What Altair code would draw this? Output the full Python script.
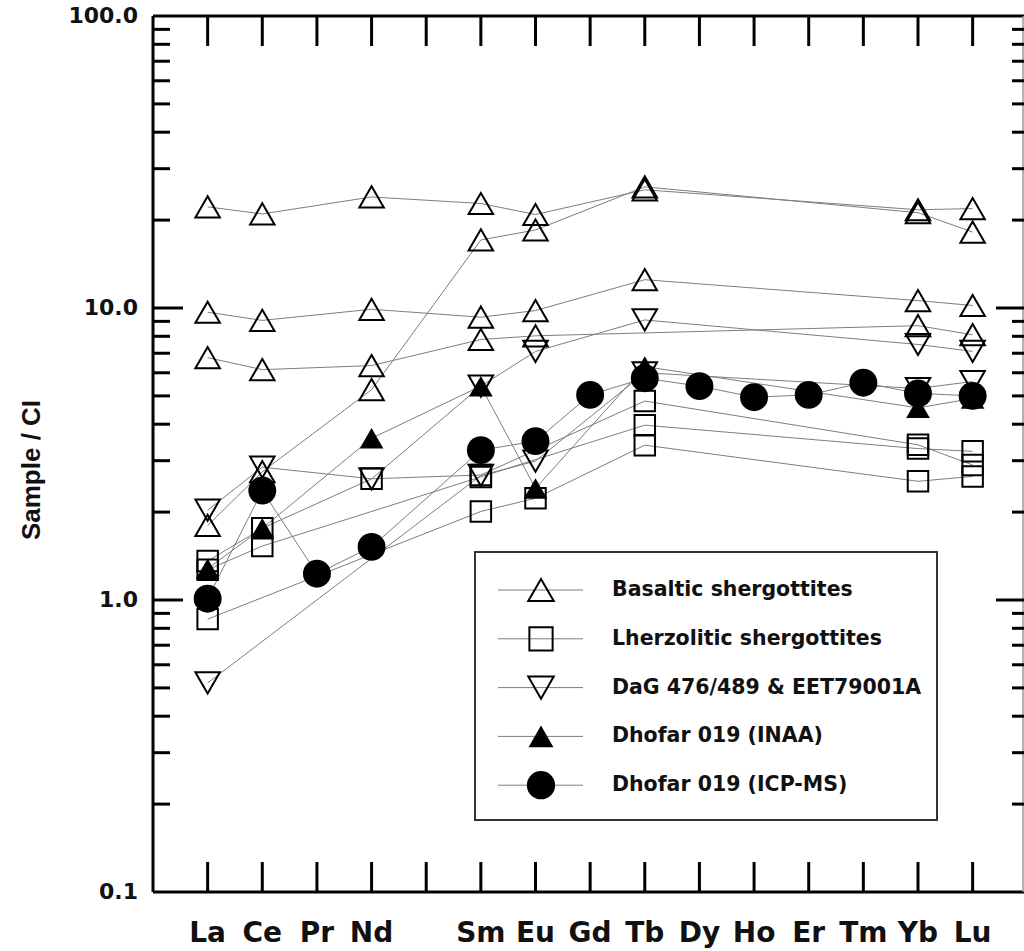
import altair as alt
import pandas as pd

# Rare-earth elements on the x axis (Pm has a tick but no label or data)
ELEMENTS = ["La", "Ce", "Pr", "Nd", "Pm", "Sm", "Eu", "Gd",
            "Tb", "Dy", "Ho", "Er", "Tm", "Yb", "Lu"]
LABELED = ["La", "Ce", "Pr", "Nd", "Sm", "Eu", "Gd",
           "Tb", "Dy", "Ho", "Er", "Tm", "Yb", "Lu"]
N = None

# CI-chondrite normalised abundances, one list per sample (None = not analysed)
BASALTIC_1 = [22.2, 21.0, N, 24.0, N, 22.8, 20.9, N, 25.4, N, N, N, N, 21.7, 21.9]
BASALTIC_2 = [1.80, 2.75, N, 5.25, N, 17.1, 18.5, N, 26.0, N, N, N, N, 21.2, 18.2]
BASALTIC_3 = [9.67, 9.07, N, 9.9, N, 9.3, 9.8, N, 12.5, N, N, N, N, 10.6, 10.2]
BASALTIC_4 = [6.76, 6.15, N, 6.35, N, 7.8, 8.03, N, N, N, N, N, N, 8.7, 8.1]

LHERZOLITIC_1 = [1.36, 1.76, N, 2.6, N, 2.68, N, N, 4.8, N, N, N, N, 3.4, 2.9]
LHERZOLITIC_2 = [1.27, 1.53, N, N, N, 2.64, N, N, 3.97, N, N, N, N, 3.3, 3.23]
LHERZOLITIC_3 = [0.86, N, N, N, N, 2.01, 2.23, N, 3.39, N, N, N, N, 2.55, 2.65]

DAG_EET_1 = [2.03, 2.85, N, 2.6, N, 5.4, 7.1, N, 9.1, N, N, N, N, 7.5, 7.1]
DAG_EET_2 = [0.52, N, N, N, N, 2.67, 2.99, N, 6.0, N, N, N, N, 5.3, 5.6]

DHOFAR_INAA = [1.28, 1.76, N, 3.58, N, 5.4, 2.41, N, 6.3, N, N, N, N, 4.55, 4.9]
DHOFAR_ICPMS = [1.01, 2.37, 1.23, 1.52, N, 3.26, 3.5, 5.04, 5.75, 5.4, 4.95,
                5.04, 5.55, 5.1, 5.0]

GROUPS = ["Basaltic shergottites", "Lherzolitic shergottites",
          "DaG 476/489 & EET79001A", "Dhofar 019 (INAA)", "Dhofar 019 (ICP-MS)"]
GROUP_SAMPLES = [
    [BASALTIC_1, BASALTIC_2, BASALTIC_3, BASALTIC_4],
    [LHERZOLITIC_1, LHERZOLITIC_2, LHERZOLITIC_3],
    [DAG_EET_1, DAG_EET_2],
    [DHOFAR_INAA],
    [DHOFAR_ICPMS],
]
Y_TICK_LABELS = ["0.1", "1.0", "10.0", "100.0"]
Y_TICK_VALUES = [0.1, 1.0, 10.0, 100.0]

# ---- styling ----
SHAPES = ["triangle-up", "square", "triangle-down", "triangle-up", "circle"]
FILLED = [False, False, False, True, True]
SIZES = [600, 420, 600, 560, 780]
LEGEND_SIZES = [650, 540, 650, 620, 800]

W, H = 871, 876
FONT = "DejaVu Sans"

rows = []
for g, samples in zip(GROUPS, GROUP_SAMPLES):
    for k, s in enumerate(samples):
        for i, v in enumerate(s):
            if v is not None:
                rows.append({"group": g, "sample": f"{g} {k}", "idx": i,
                             "element": ELEMENTS[i], "value": v})
df = pd.DataFrame(rows)

xscale = alt.Scale(domain=[-1, 14.94], nice=False, zero=False)
yscale = alt.Scale(type="log", domain=[0.1, 100], nice=False)
X = alt.X("idx:Q", scale=xscale, axis=None)
Y = alt.Y("value:Q", scale=yscale, axis=None)

layers = []

# connecting lines
layers.append(
    alt.Chart(df).mark_line(color="#7d7d7d", strokeWidth=1)
    .encode(x=X, y=Y, detail="sample:N", order="idx:Q")
)

# symbols: open ones first, filled on top
for order_filled in (False, True):
    for g, shp, fil, sz in zip(GROUPS, SHAPES, FILLED, SIZES):
        if fil != order_filled:
            continue
        layers.append(
            alt.Chart(df[df["group"] == g]).mark_point(
                shape=shp, filled=fil, size=sz, color="black",
                strokeWidth=2, opacity=1)
            .encode(x=X, y=Y)
        )

# frame (left, top, bottom, right)
one = pd.DataFrame({"d": [0]})
layers.append(alt.Chart(one).mark_rule(color="black", strokeWidth=3)
              .encode(x=alt.value(0), y=alt.value(0), y2=alt.value(H)))
layers.append(alt.Chart(one).mark_rule(color="black", strokeWidth=3)
              .encode(x=alt.value(0), x2=alt.value(W), y=alt.value(0)))
layers.append(alt.Chart(one).mark_rule(color="black", strokeWidth=3)
              .encode(x=alt.value(0), x2=alt.value(W), y=alt.value(H)))
layers.append(alt.Chart(one).mark_rule(color="#9a9a9a", strokeWidth=1.5)
              .encode(x=alt.value(W - 1), y=alt.value(0), y2=alt.value(H)))

# inward ticks on top and bottom at every element position
xt = pd.DataFrame({"idx": list(range(len(ELEMENTS)))})
XT = alt.X("idx:Q", scale=xscale, axis=None)
layers.append(alt.Chart(xt).mark_rule(color="black", strokeWidth=3)
              .encode(x=XT, y=alt.value(0), y2=alt.value(30)))
layers.append(alt.Chart(xt).mark_rule(color="black", strokeWidth=3)
              .encode(x=XT, y=alt.value(H - 30), y2=alt.value(H)))

# log ticks on left and right
minor = pd.DataFrame({"v": [m * d for d in (0.1, 1, 10) for m in range(2, 10)]})
major = pd.DataFrame({"v": [1.0, 10.0]})
YT = alt.Y("v:Q", scale=yscale, axis=None)
layers.append(alt.Chart(minor).mark_rule(color="black", strokeWidth=3)
              .encode(y=YT, x=alt.value(0), x2=alt.value(17)))
layers.append(alt.Chart(major).mark_rule(color="black", strokeWidth=3)
              .encode(y=YT, x=alt.value(0), x2=alt.value(30)))
layers.append(alt.Chart(minor).mark_rule(color="black", strokeWidth=3)
              .encode(y=YT, x=alt.value(W - 12), x2=alt.value(W)))
layers.append(alt.Chart(major).mark_rule(color="black", strokeWidth=3)
              .encode(y=YT, x=alt.value(W - 28), x2=alt.value(W)))

# x labels
xl = pd.DataFrame({"idx": [ELEMENTS.index(e) for e in LABELED], "name": LABELED})
layers.append(alt.Chart(xl).mark_text(font=FONT, fontSize=28, fontWeight="bold",
                                      color="#111", baseline="alphabetic")
              .encode(x=XT, y=alt.value(H + 50), text="name:N"))

# y labels
yl = pd.DataFrame({"v": Y_TICK_VALUES, "lab": Y_TICK_LABELS})
layers.append(alt.Chart(yl).mark_text(font=FONT, fontSize=22, fontWeight="bold",
                                      color="#111", align="right",
                                      baseline="middle")
              .encode(y=YT, x=alt.value(-15), text="lab:N"))

# y title
layers.append(alt.Chart(pd.DataFrame({"t": ["Sample / CI"]}))
              .mark_text(font="Liberation Sans", fontSize=26, fontWeight="bold",
                         color="#111", angle=270, align="center",
                         baseline="middle")
              .encode(x=alt.value(-121), y=alt.value(454), text="t:N"))

# legend box
LX0, LX1, LY0, LY1 = 322, 784, 536, 804
layers.append(alt.Chart(one).mark_rect(fill="white", stroke="#333",
                                       strokeWidth=2)
              .encode(x=alt.value(LX0), x2=alt.value(LX1),
                      y=alt.value(LY0), y2=alt.value(LY1)))
ROW0, ROW_STEP = 574, 48.8
for k, (g, shp, fil, sz) in enumerate(zip(GROUPS, SHAPES, FILLED, LEGEND_SIZES)):
    ry = ROW0 + k * ROW_STEP
    lab = pd.DataFrame({"t": [g]})
    layers.append(alt.Chart(lab).mark_rule(color="#7d7d7d", strokeWidth=1)
                  .encode(x=alt.value(345), x2=alt.value(430), y=alt.value(ry)))
    layers.append(alt.Chart(lab).mark_point(shape=shp, filled=fil, size=sz,
                                            color="black", strokeWidth=2,
                                            opacity=1)
                  .encode(x=alt.value(388), y=alt.value(ry)))
    layers.append(alt.Chart(lab).mark_text(font=FONT, fontSize=20.5,
                                           fontWeight="bold", color="#111",
                                           align="left", baseline="middle")
                  .encode(x=alt.value(459), y=alt.value(ry), text="t:N"))

chart = (
    alt.layer(*layers)
    .properties(width=W, height=H,
                autosize=alt.AutoSizeParams(type="none"),
                padding={"left": 153, "top": 16, "right": 0, "bottom": 59},
                background="white")
    .configure_view(stroke=None)
)

chart.save("out.html", embed_options={"renderer": "svg", "actions": False})
